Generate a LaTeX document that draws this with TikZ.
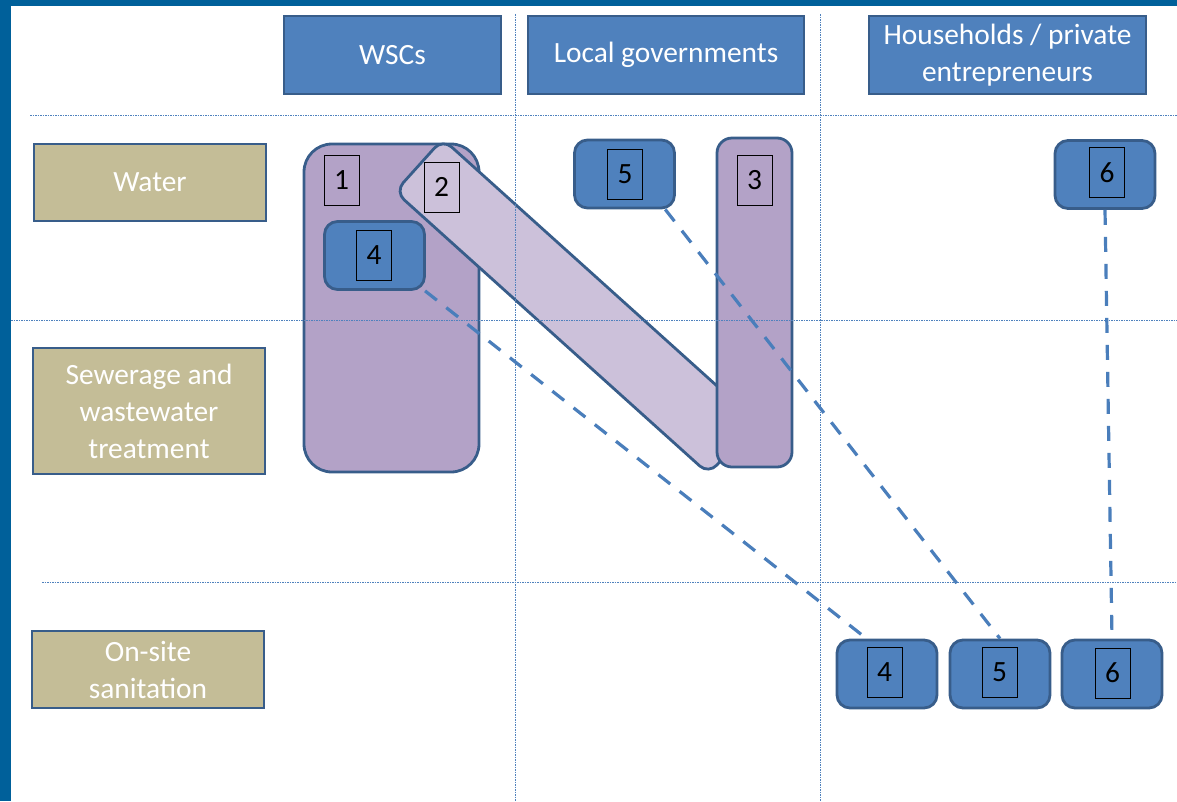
\documentclass[tikz,border=0pt]{standalone}
\usepackage{fontspec}
\setmainfont{Carlito}
\definecolor{boxblue}{HTML}{4F81BD}
\definecolor{boxline}{HTML}{385D8A}
\definecolor{khaki}{HTML}{C4BD97}
\definecolor{lilac}{HTML}{B3A2C7}
\definecolor{palelilac}{HTML}{CCC1DA}
\definecolor{frame}{HTML}{00609A}
\definecolor{linkblue}{HTML}{4A7EBB}
\begin{document}
\begin{tikzpicture}[x=1pt,y=-1pt,
  font=\fontsize{29.4}{37}\selectfont,
  colhead/.style={draw=boxline, fill=boxblue, line width=2.5pt, text=white, align=center, inner sep=0pt, minimum height=78pt},
  rowhead/.style={draw=boxline, fill=khaki, line width=2.8pt, text=white, align=center, inner sep=0pt, minimum width=232pt},
  actor/.style={draw=boxline, fill=boxblue, line width=2.8pt, rounded corners=13pt, minimum width=100pt, minimum height=68pt},
  task/.style={draw=boxline, fill=lilac, line width=2.8pt},
  numbox/.style={draw=black, line width=1pt, minimum width=35pt, minimum height=50pt, inner sep=0pt, text=black},
  gridline/.style={draw=boxblue, line width=0.9pt, dash pattern=on 1.5pt off 1pt},
  link/.style={draw=linkblue, line width=3.2pt, dash pattern=on 15pt off 12pt}]
\useasboundingbox (0,0) rectangle (1177,801);
\fill[frame] (0,0) rectangle (11,801);
\fill[frame] (0,0) rectangle (1177,6);

\node[colhead, minimum width=217pt] (wsc) at (392.5,55) {WSCs};
\node[colhead, minimum width=276pt] (lgov) at (666,55) {Local governments};
\node[colhead, minimum width=277pt] (hh) at (1007.5,55) {Households / private\\entrepreneurs};

\node[rowhead, minimum height=77pt] (water) at (150,182.5) {Water};
\node[rowhead, minimum height=126pt] (sewer) at (149,411) {Sewerage and\\wastewater\\treatment};
\node[rowhead, minimum height=77pt] (onsite) at (148,669.5) {On-site\\sanitation};

\node[task, minimum width=175pt, minimum height=328pt, rounded corners=28pt] (t1) at (391.5,308) {};
\node[numbox] (n1) at (341.5,180) {1};
\node[actor] (w4) at (374.5,255.5) {};
\node[numbox] (lw4) at (374,255.5) {4};
\node[task, fill=palelilac, rotate=-42, minimum width=422pt, minimum height=71pt, rounded corners=12pt] (t2) at (575.7,306.5) {};
\node[numbox] (n2) at (441.5,187) {2};
\node[task, minimum width=75pt, minimum height=329pt, rounded corners=15pt] (t3) at (754.5,302.5) {};
\node[numbox] (n3) at (754.5,180.5) {3};
\node[actor] (w5) at (624.5,174) {};
\node[numbox] (lw5) at (625,174.5) {5};
\node[actor] (w6) at (1105,174.5) {};
\node[numbox] (lw6) at (1107,172.5) {6};

\node[actor] (s4) at (887,674) {};
\node[numbox] (ls4) at (884.5,672) {4};
\node[actor] (s5) at (1000,674) {};
\node[numbox] (ls5) at (999.5,672) {5};
\node[actor] (s6) at (1112,674) {};
\node[numbox] (ls6) at (1112.5,673) {6};

\draw[gridline] (30,115) -- (1177,115);
\draw[gridline] (11,320) -- (1177,320);
\draw[gridline] (42,582) -- (1177,582);
\draw[gridline] (515,14) -- (515,801);
\draw[gridline] (820,14) -- (820,801);

\draw[link] (w4.-35) -- (s4.120);
\draw[link] (w5.-41) -- (s5.north);
\draw[link] (w6.south) -- (s6.north);
\end{tikzpicture}
\end{document}
